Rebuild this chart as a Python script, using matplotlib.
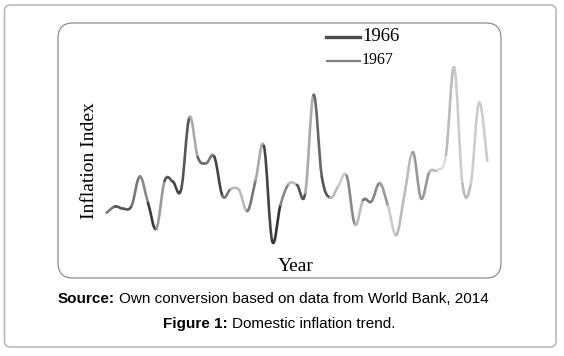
import matplotlib
matplotlib.use("Agg")
import matplotlib.pyplot as plt
from matplotlib.path import Path
from matplotlib.patches import PathPatch, FancyBboxPatch
import numpy as np

# -------------------------------
# DATA (arbitrary index units)
# -------------------------------
inflation = [37.3, 43.5, 41.3, 44.0, 73.5, 47.0, 21.5, 69.0, 68.3, 60.7,
             132.7, 93.0, 86.7, 93.3, 54.0, 61.0, 60.0, 39.0, 70.0, 104.0,
             9.0, 45.0, 66.0, 65.0, 57.0, 155.0, 73.5, 52.3, 64.0, 74.3,
             25.5, 50.0, 48.5, 66.7, 44.0, 15.0, 56.0, 97.7, 51.5, 78.0,
             80.0, 95.0, 182.5, 66.0, 66.0, 147.3, 89.3]

# gray shade of each segment between two points
seg_shades = ["#777777", "#555555", "#555555", "#777777", "#8a8a8a", "#3a3a3a",
              "#999999", "#555555", "#444444", "#555555", "#aaaaaa", "#666666",
              "#777777", "#444444", "#777777", "#bbbbbb", "#bbbbbb", "#777777",
              "#aaaaaa", "#444444", "#333333", "#888888", "#bbbbbb", "#555555",
              "#aaaaaa", "#666666", "#555555", "#bbbbbb", "#cccccc", "#888888",
              "#bbbbbb", "#777777", "#888888", "#999999", "#cccccc", "#bbbbbb",
              "#bbbbbb", "#999999", "#999999", "#bbbbbb", "#dddddd", "#bbbbbb",
              "#cccccc", "#bbbbbb", "#cccccc", "#cccccc"]

legend_labels = ["1966", "1967"]

W, H = 564, 356

fig = plt.figure(figsize=(W / 100, H / 100), dpi=100)
fig.patch.set_facecolor("white")

# outer and inner rounded frames (figure pixel units)
def px_box(x0, y0, x1, y1, rad, color, lw):
    box = FancyBboxPatch((x0 / W, 1 - y1 / H), (x1 - x0) / W, (y1 - y0) / H,
                         boxstyle=f"round,pad=0,rounding_size={rad / W}",
                         transform=fig.transFigure, fill=False,
                         edgecolor=color, linewidth=lw,
                         mutation_aspect=W / H)
    fig.patches.append(box)

px_box(4.5, 5, 556, 347, 6, "#bdbdbd", 1.3)
px_box(58, 23, 501, 278, 15, "#8f8f8f", 0.9)

# -------------------------------
# PLOT AREA
# -------------------------------
ax = fig.add_axes([0, 0, 1, 1])
ax.set_axis_off()
step = 380.6 / 46
ax.set_xlim(-106.7 / step, (W - 106.7) / step)
ax.set_ylim(250 - H, 250)

x = np.arange(len(inflation), dtype=float)
y = np.array(inflation)
pts = np.column_stack([x, y])
ext = np.vstack([pts[0], pts, pts[-1]])

# smoothed line, one bezier piece per segment
for i in range(len(pts) - 1):
    p0, p1 = ext[i + 1], ext[i + 2]
    c1 = p0 + (ext[i + 2] - ext[i]) / 5.5
    c2 = p1 - (ext[i + 3] - ext[i + 1]) / 5.5
    path = Path([p0, c1, c2, p1], [Path.MOVETO, Path.CURVE4, Path.CURVE4, Path.CURVE4])
    ax.add_patch(PathPatch(path, fill=False, edgecolor=seg_shades[i],
                           linewidth=1.9, capstyle="round"))

# legend drawn by hand
fig.add_artist(plt.Line2D([326 / W, 360 / W], [1 - 36.5 / H] * 2,
                          color="#4d4d4d", linewidth=2.4))
fig.add_artist(plt.Line2D([327 / W, 360 / W], [1 - 60.5 / H] * 2,
                          color="#7f7f7f", linewidth=1.6))
fig.text(362 / W, 1 - 36.5 / H, legend_labels[0], family="Liberation Serif",
         fontsize=13.5, va="center", ha="left")
fig.text(362 / W, 1 - 60.5 / H, legend_labels[1], family="Liberation Serif",
         fontsize=11.5, va="center", ha="left")

# axis titles
fig.text(90 / W, 1 - 161 / H, "Inflation Index", family="Liberation Serif",
         fontsize=14, rotation=90, va="center", ha="center")
fig.text(296 / W, 1 - 266.5 / H, "Year", family="Liberation Serif",
         fontsize=14, va="center", ha="center")

# caption: bold lead + regular rest, centred together
renderer = fig.canvas.get_renderer()

def caption(px, py, bold, rest):
    tb = fig.text(0, 1 - py / H, bold, family="Liberation Sans", fontsize=11,
                  fontweight="bold", va="center", ha="left")
    tr = fig.text(0, 1 - py / H, rest, family="Liberation Sans",
                  fontsize=11, va="center", ha="left")
    gap = 4
    wb = tb.get_window_extent(renderer).width
    wr = tr.get_window_extent(renderer).width
    x0 = px - (wb + gap + wr) / 2
    tb.set_x(x0 / W)
    tr.set_x((x0 + wb + gap) / W)

caption(273, 299, "Source:", "Own conversion based on data from World Bank, 2014")
caption(279, 324, "Figure 1:", "Domestic inflation trend.")

fig.savefig("out.png", dpi=100)
